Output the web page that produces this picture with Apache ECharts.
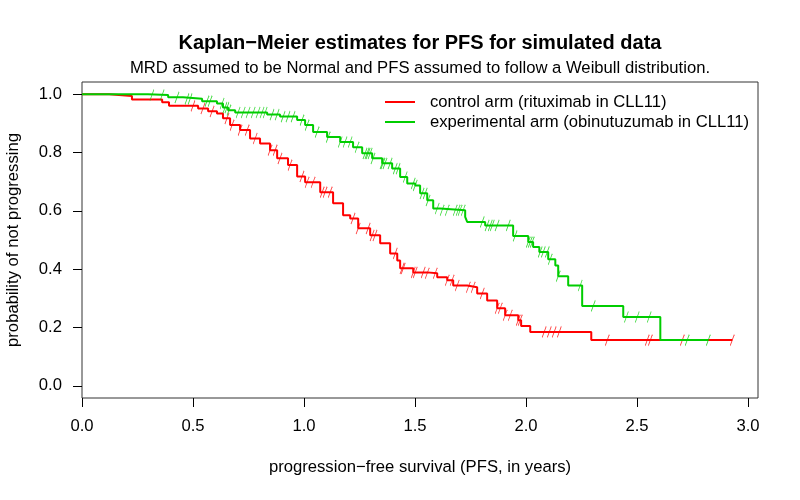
<!DOCTYPE html>
<html>
<head>
<meta charset="utf-8">
<script src="https://cdn.jsdelivr.net/npm/echarts@6/dist/echarts.min.js"></script>
<style>html,body{margin:0;padding:0;background:#fff}#chart{width:800px;height:500px}</style>
</head>
<body>
<div id="chart"></div>
<script>
// ---- data ----
const seriesNames = ['control arm (rituximab in CLL11)', 'experimental arm (obinutuzumab in CLL11)'];

// control arm: event times and KM survival after each drop
const controlTimes = [0.122, 0.225, 0.361, 0.392, 0.523, 0.568, 0.608, 0.635, 0.667, 0.712, 0.757, 0.802, 0.847, 0.879, 0.928, 0.969, 1.005, 1.073, 1.131, 1.176, 1.208, 1.244, 1.298, 1.343, 1.388, 1.420, 1.433, 1.492, 1.555, 1.600, 1.645, 1.672, 1.735, 1.780, 1.825, 1.870, 1.906, 1.965, 1.978, 2.019, 2.294];
const controlSurv  = [0.994, 0.982, 0.972, 0.960, 0.951, 0.941, 0.934, 0.917, 0.894, 0.877, 0.848, 0.831, 0.808, 0.780, 0.757, 0.718, 0.698, 0.664, 0.626, 0.585, 0.574, 0.540, 0.516, 0.489, 0.454, 0.430, 0.403, 0.389, 0.386, 0.372, 0.362, 0.344, 0.338, 0.317, 0.293, 0.266, 0.242, 0.225, 0.205, 0.185, 0.157];
const controlCensor = [0.500, 0.545, 0.586, 0.653, 0.676, 0.712, 0.744, 0.780, 0.847, 0.870, 0.892, 0.937, 0.991, 1.014, 1.041, 1.082, 1.095, 1.118, 1.221, 1.244, 1.289, 1.307, 1.320, 1.411, 1.442, 1.447, 1.492, 1.501, 1.537, 1.555, 1.591, 1.645, 1.667, 1.690, 1.740, 1.762, 1.803, 1.870, 1.884, 1.906, 1.929, 1.965, 1.974, 2.082, 2.105, 2.127, 2.150, 2.366, 2.546, 2.560, 2.704, 2.929];
const controlEnd = 2.929;

// experimental arm
const expTimes = [0.297, 0.388, 0.455, 0.541, 0.608, 0.635, 0.658, 0.690, 0.834, 0.892, 0.969, 1.005, 1.041, 1.104, 1.163, 1.221, 1.262, 1.307, 1.352, 1.397, 1.433, 1.465, 1.501, 1.523, 1.555, 1.582, 1.613, 1.726, 1.735, 1.816, 1.942, 2.010, 2.032, 2.060, 2.100, 2.132, 2.145, 2.190, 2.253, 2.438, 2.605];
const expSurv  = [0.997, 0.989, 0.984, 0.976, 0.968, 0.954, 0.945, 0.937, 0.930, 0.923, 0.911, 0.894, 0.870, 0.853, 0.836, 0.818, 0.797, 0.780, 0.763, 0.745, 0.716, 0.694, 0.687, 0.660, 0.636, 0.608, 0.602, 0.579, 0.562, 0.550, 0.514, 0.493, 0.476, 0.459, 0.434, 0.413, 0.376, 0.344, 0.274, 0.236, 0.157];
const expCensor = [0.315, 0.361, 0.428, 0.473, 0.487, 0.563, 0.577, 0.631, 0.644, 0.653, 0.662, 0.703, 0.726, 0.748, 0.771, 0.793, 0.811, 0.825, 0.856, 0.879, 0.906, 0.928, 0.951, 0.991, 1.014, 1.059, 1.109, 1.163, 1.185, 1.208, 1.239, 1.275, 1.284, 1.289, 1.298, 1.311, 1.352, 1.356, 1.365, 1.388, 1.411, 1.424, 1.456, 1.492, 1.501, 1.532, 1.546, 1.559, 1.600, 1.622, 1.645, 1.681, 1.694, 1.703, 1.717, 1.803, 1.825, 1.839, 1.848, 1.870, 1.920, 1.951, 2.010, 2.019, 2.028, 2.064, 2.078, 2.096, 2.109, 2.145, 2.244, 2.303, 2.452, 2.501, 2.555, 2.726, 2.821];
const expEnd = 2.821;

const xTicks = [0, 0.5, 1, 1.5, 2, 2.5, 3];
const yTicks = [0, 0.2, 0.4, 0.6, 0.8, 1];

// ---- build ----
function stepData(times, surv, end) {
  const d = [[0, 1]];
  for (let i = 0; i < times.length; i++) d.push([times[i], surv[i]]);
  d.push([end, surv[surv.length - 1]]);
  return d;
}
function survAt(times, surv, t) {
  let s = 1;
  for (let i = 0; i < times.length; i++) if (times[i] <= t + 1e-9) s = surv[i];
  return s;
}
function censorData(times, surv, cens) {
  return cens.map(t => [t, survAt(times, surv, t)]);
}

const RED = '#ff0000', GREEN = '#00cd00';
const FONT = 'Liberation Sans, Arial, Helvetica, sans-serif';
const FS = 16.67;
const slash = 'path://M0,11L4,0';

const chart = echarts.init(document.getElementById('chart'), null, {renderer: 'canvas'});
chart.setOption({
  animation: false,
  backgroundColor: '#fff',
  textStyle: {fontFamily: FONT, color: '#000'},
  title: {
    text: 'Kaplan\u2212Meier estimates for PFS for simulated data',
    subtext: 'MRD assumed to be Normal and PFS assumed to follow a Weibull distribution.',
    left: 420, textAlign: 'center', top: 33, itemGap: 7, padding: 0,
    textStyle: {fontFamily: FONT, fontSize: 20, lineHeight: 20, fontWeight: 'bold', color: '#000'},
    subtextStyle: {fontFamily: FONT, fontSize: FS, lineHeight: 17, color: '#000'}
  },
  legend: {
    data: seriesNames, left: 385, top: 93.5, orient: 'vertical', padding: 0,
    icon: 'rect', itemWidth: 30, itemHeight: 2, itemGap: 3,
    textStyle: {fontFamily: FONT, fontSize: FS, color: '#000', lineHeight: 17, padding: [0, 0, 0, 10]}
  },
  grid: {left: 82, right: 42, top: 82, bottom: 102, outerBoundsMode: 'none', containLabel: false,
         show: true, borderColor: '#333', borderWidth: 1, backgroundColor: 'transparent'},
  xAxis: {
    type: 'value', min: 0, max: 3.045,
    name: 'progression\u2212free survival (PFS, in years)', nameLocation: 'middle', nameGap: 61,
    nameTextStyle: {fontFamily: FONT, fontSize: FS, color: '#000'},
    axisLine: {show: false, onZero: false},
    axisTick: {show: true, inside: false, length: 9, lineStyle: {color: '#000'}, customValues: xTicks},
    axisLabel: {fontFamily: FONT, fontSize: FS, color: '#000', margin: 20, customValues: xTicks, formatter: v => v.toFixed(1)},
    splitLine: {show: false}
  },
  yAxis: {
    type: 'value', min: -0.0417, max: 1.0417,
    name: 'probability of not progressing', nameLocation: 'middle', nameGap: 60, nameRotate: 90,
    nameTextStyle: {fontFamily: FONT, fontSize: FS, color: '#000'},
    axisLine: {show: false, onZero: false},
    axisTick: {show: true, inside: false, length: 9, lineStyle: {color: '#000'}, customValues: yTicks},
    axisLabel: {fontFamily: FONT, fontSize: FS, color: '#000', margin: 20, customValues: yTicks, formatter: v => v.toFixed(1)},
    splitLine: {show: false}
  },
  series: [
    {name: seriesNames[0], type: 'line', step: 'end', showSymbol: false, symbol: 'none',
     data: stepData(controlTimes, controlSurv, controlEnd),
     lineStyle: {color: RED, width: 2}, itemStyle: {color: RED}, z: 2},
    {name: 'control censored', type: 'scatter', symbol: slash, symbolSize: [4, 11],
     data: censorData(controlTimes, controlSurv, controlCensor),
     itemStyle: {color: 'transparent', borderColor: RED, borderWidth: 1}, z: 3, silent: true},
    {name: seriesNames[1], type: 'line', step: 'end', showSymbol: false, symbol: 'none',
     data: stepData(expTimes, expSurv, expEnd),
     lineStyle: {color: GREEN, width: 2}, itemStyle: {color: GREEN}, z: 4},
    {name: 'experimental censored', type: 'scatter', symbol: slash, symbolSize: [4, 11],
     data: censorData(expTimes, expSurv, expCensor),
     itemStyle: {color: 'transparent', borderColor: GREEN, borderWidth: 1}, z: 5, silent: true}
  ]
});
</script>
</body>
</html>
